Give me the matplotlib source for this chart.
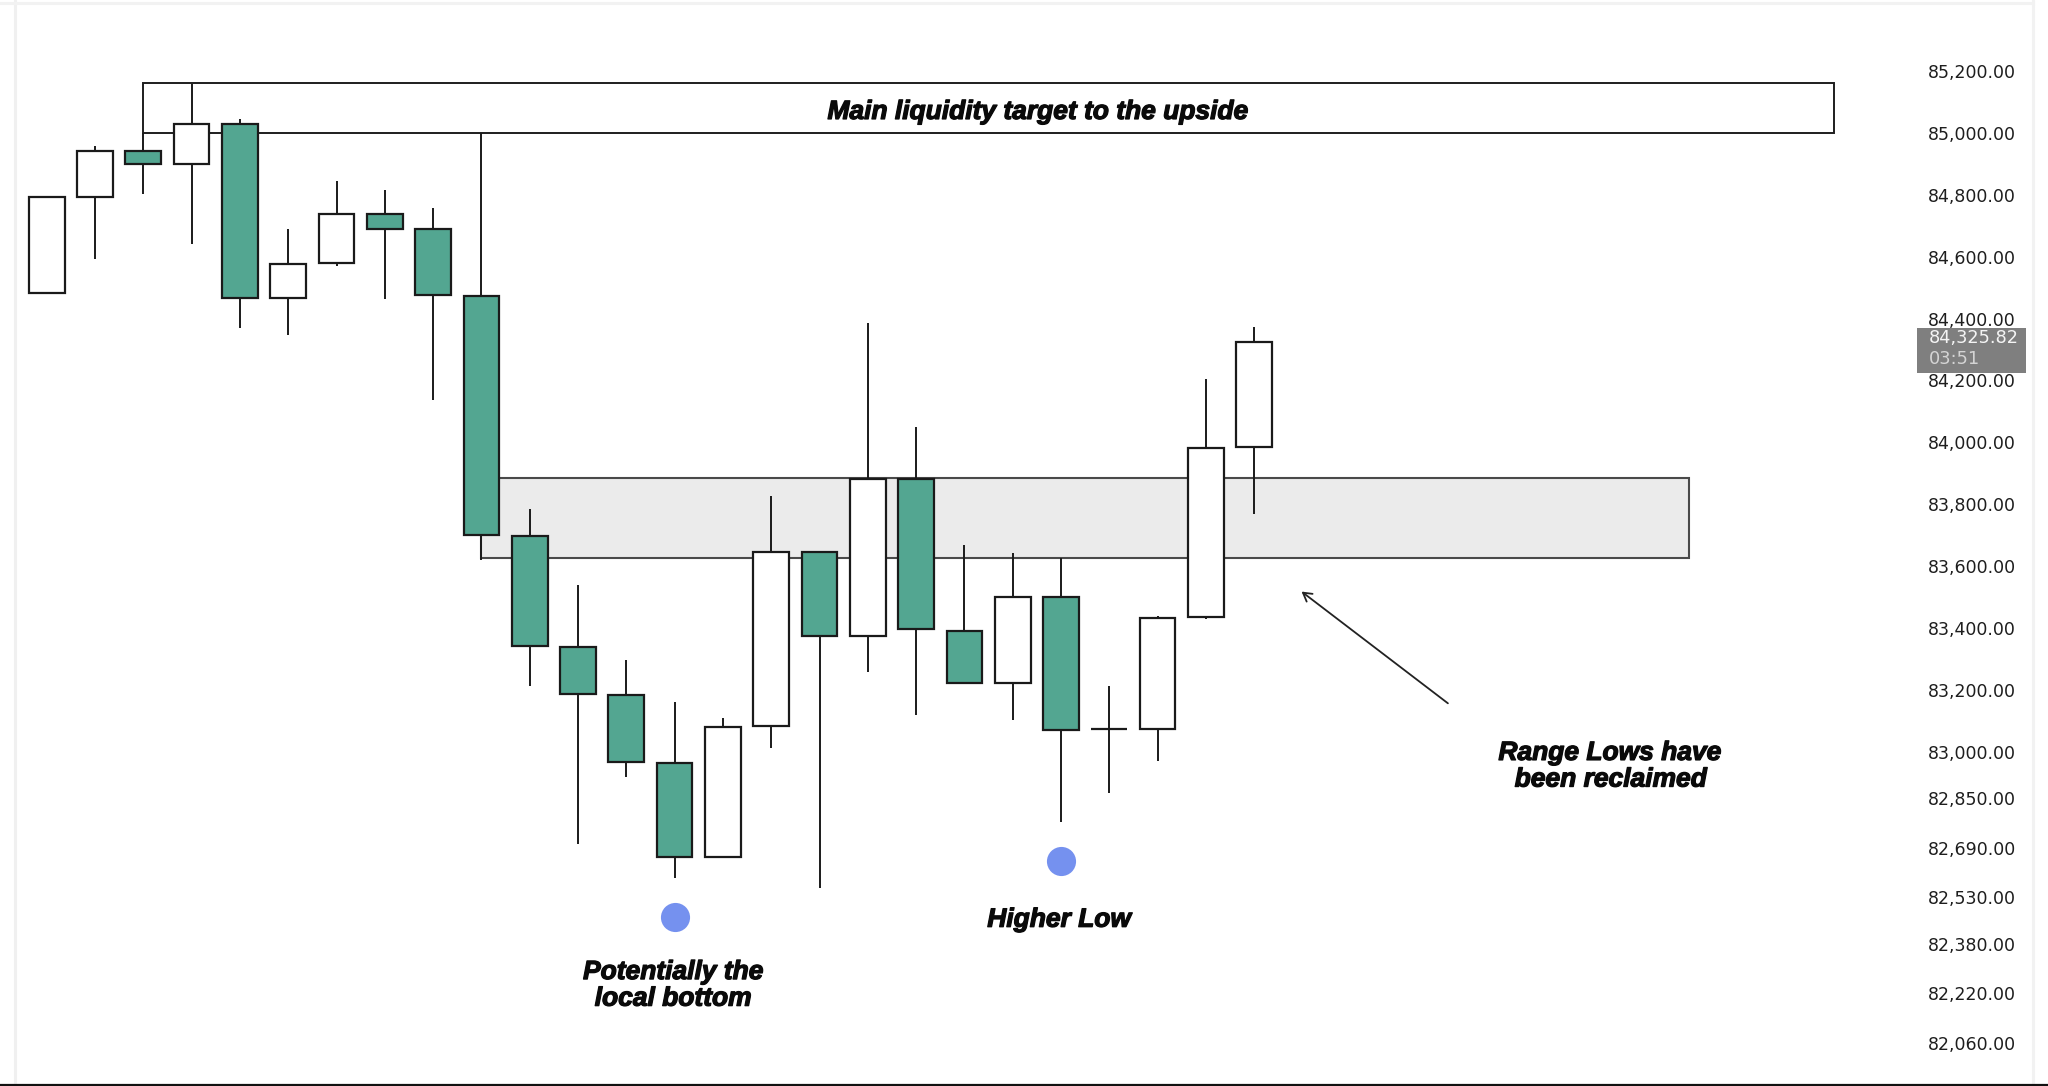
import matplotlib
matplotlib.use("Agg")
import matplotlib.pyplot as plt
from matplotlib.patches import Rectangle
from matplotlib.lines import Line2D
import matplotlib.patheffects as pe

# ---------------- data ----------------
opens  = [84482, 84794, 84942, 84899, 85028, 84468, 84579, 84737, 84689, 84474,
          83696, 83339, 83183, 82964, 82661, 83084, 83645, 83375, 83883, 83392,
          83221, 83502, 83073, 83073, 83436, 83986]
highs  = [84792, 84958, 85000, 85159, 85046, 84690, 84844, 84815, 84757, 85000,
          83786, 83539, 83298, 83162, 83111, 83826, 83645, 84386, 84050, 83668,
          83643, 83627, 83212, 83438, 84204, 84373]
lows   = [84482, 84593, 84804, 84642, 84369, 84347, 84569, 84462, 84137, 83621,
          83212, 82702, 82920, 82593, 82661, 83012, 82560, 83259, 83119, 83221,
          83102, 82774, 82866, 82972, 83428, 83768]
closes = [84792, 84942, 84899, 85029, 84468, 84576, 84737, 84690, 84475, 83700,
          83341, 83186, 82967, 82661, 83080, 83645, 83374, 83883, 83396, 83221,
          83502, 83070, 83073, 83433, 83983, 84325.82]

tick_values = [85200, 85000, 84800, 84600, 84400, 84200, 84000, 83800, 83600,
               83400, 83200, 83000, 82850, 82690, 82530, 82380, 82220, 82060]
tick_labels = [f"{v:,.2f}" for v in tick_values]

target_zone = [2, 37, 85000, 85160]      # start bar, end bar, low, high
range_zone = [9, 34, 83628, 83885]
dot_x = [13, 21]
dot_y = [82468, 82648]
countdown = "03:51"

# ---------------- figure ----------------
W, H = 2048, 1086
fig = plt.figure(figsize=(W / 100, H / 100), dpi=100)
fig.patch.set_facecolor("white")
ax = fig.add_axes([0, 0, 1, 1])
ax.set_facecolor("white")
ax.set_xlim(-0.967, 41.434)
ax.set_ylim(81920.5, 85429.4)
for s in ax.spines.values():
    s.set_visible(False)
ax.xaxis.set_visible(False)

GREEN = "#53a691"
EDGE = "#1a1a1a"

# zones
ax.add_patch(Rectangle((target_zone[0], target_zone[2]), target_zone[1] - target_zone[0],
                       target_zone[3] - target_zone[2], facecolor="white",
                       edgecolor="#1e1e1e", lw=1.4, zorder=1))
ax.add_patch(Rectangle((range_zone[0], range_zone[2]), range_zone[1] - range_zone[0],
                       range_zone[3] - range_zone[2], facecolor="#ebebeb",
                       edgecolor="#4a4a4a", lw=1.5, zorder=1))

# candles
xs = list(range(len(opens)))
ax.vlines(xs, lows, highs, color=EDGE, lw=1.4, zorder=3)
bottoms = [min(o, c) for o, c in zip(opens, closes)]
heights = [abs(c - o) for o, c in zip(opens, closes)]
colors = ["white" if c >= o else GREEN for o, c in zip(opens, closes)]
ax.bar(xs, heights, bottom=bottoms, width=0.74, color=colors,
       edgecolor=EDGE, linewidth=1.6, zorder=4)

# blue dots
ax.scatter(dot_x, dot_y, s=440, color="#7591ef", linewidths=0, zorder=5)

# y axis labels on the right, inside
ax.yaxis.tick_right()
ax.set_yticks(tick_values, labels=tick_labels)
ax.tick_params(axis="y", length=0, pad=-23, labelsize=12.5, labelcolor="#1e1e1e")
for lbl in ax.yaxis.get_majorticklabels():
    lbl.set_horizontalalignment("right")

# last price label
last = closes[-1]
ax.add_patch(Rectangle((38.72, last - 103), 2.25, 146, facecolor="#7f7f7f",
                       edgecolor="none", zorder=6))
ax.text(38.97, last + 10, f"{last:,.2f}", ha="left", va="center",
        fontsize=12.8, color="#f4f4f4", zorder=7)
ax.text(38.97, last - 57, countdown, ha="left", va="center",
        fontsize=12.8, color="#d4d4d4", zorder=7)

# annotations
stroke = [pe.withStroke(linewidth=0.9, foreground="#0a0a0a")]
tf = dict(fontfamily="Liberation Sans", fontweight="bold", fontstyle="italic",
          fontsize=19, color="#0a0a0a", ha="center", va="baseline", zorder=8,
          path_effects=stroke)
ax.text(20.52, 85045, "Main liquidity target to the upside", **tf)
ax.text(12.97, 82266, "Potentially the", **tf)
ax.text(12.97, 82180, "local bottom", **tf)
ax.text(20.96, 82435, "Higher Low", **tf)
ax.text(32.36, 82974, "Range Lows have", **tf)
ax.text(32.38, 82888, "been reclaimed", **tf)

ax.annotate("", xy=(25.98, 83518), xytext=(29.01, 83157),
            arrowprops=dict(arrowstyle="->,head_length=0.6,head_width=0.35",
                            lw=1.3, color="#222222", shrinkA=0, shrinkB=0),
            zorder=8)

# frame lines
fig.add_artist(Line2D([14.5 / W, 14.5 / W], [0, 1], color="#f0f0f0", lw=2.2))
fig.add_artist(Line2D([0, 2033 / W], [1 - 2.7 / H, 1 - 2.7 / H], color="#f2f2f2", lw=2.2))
fig.add_artist(Line2D([2033 / W, 2033 / W], [0, 1], color="#f2f2f2", lw=2.2))
fig.add_artist(Line2D([0, 1], [1.2 / H, 1.2 / H], color="#111111", lw=1.6))

fig.savefig("out.png", dpi=100, facecolor="white")
